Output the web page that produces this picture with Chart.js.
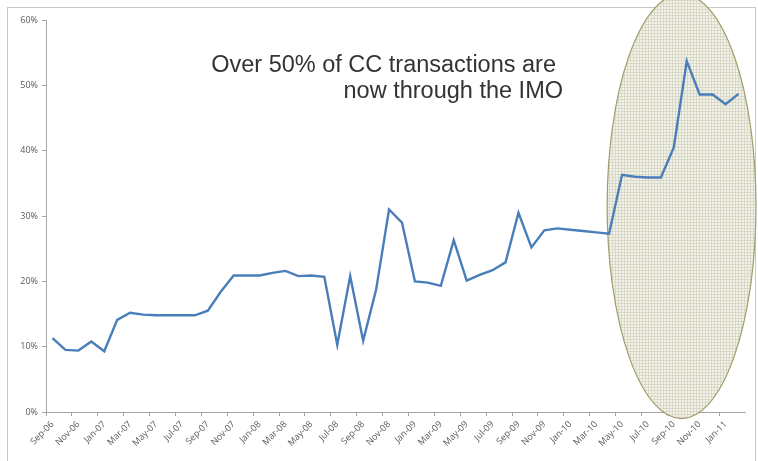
<!DOCTYPE html>
<html><head><meta charset="utf-8">
<script src="https://cdn.jsdelivr.net/npm/chart.js@4/dist/chart.umd.min.js"></script>
<style>html,body{margin:0;padding:0;background:#fff}#wrap{position:relative;width:758px;height:461px}</style>
</head><body><div id="wrap"><canvas id="c" width="758" height="461"></canvas></div>
<script>
const categories = ["Sep-06","Oct-06","Nov-06","Dec-06","Jan-07","Feb-07","Mar-07","Apr-07","May-07","Jun-07","Jul-07","Aug-07",
"Sep-07","Oct-07","Nov-07","Dec-07","Jan-08","Feb-08","Mar-08","Apr-08","May-08","Jun-08","Jul-08","Aug-08",
"Sep-08","Oct-08","Nov-08","Dec-08","Jan-09","Feb-09","Mar-09","Apr-09","May-09","Jun-09","Jul-09","Aug-09",
"Sep-09","Oct-09","Nov-09","Dec-09","Jan-10","Feb-10","Mar-10","Apr-10","May-10","Jun-10","Jul-10","Aug-10",
"Sep-10","Oct-10","Nov-10","Dec-10","Jan-11","Feb-11"];
const ccShare = [11.3,9.5,9.4,10.8,9.3,14.1,15.2,14.9,14.8,14.8,14.8,14.8,
15.5,18.4,20.9,20.9,20.9,21.3,21.6,20.8,20.9,20.7,10.3,20.8,
10.9,18.7,31.0,29.0,20.0,19.8,19.3,26.3,20.1,21.0,21.7,22.9,
30.5,25.2,27.8,28.1,27.9,27.7,27.5,27.3,36.3,36.0,35.9,35.9,
40.5,53.7,48.6,48.6,47.1,48.7];
const yTicks = [0,10,20,30,40,50,60];
const noteLines = ["Over 50% of CC transactions are","now through the IMO"];

function makePattern(){
  const p=document.createElement('canvas');p.width=3;p.height=3;
  const g=p.getContext('2d');
  g.fillStyle='#f3f3ec';g.fillRect(0,0,3,3);
  g.fillStyle='#d9d9c8';g.fillRect(0,0,3,1);g.fillRect(0,0,1,3);
  return g.createPattern(p,'repeat');
}

const extras = {
  id:'extras',
  beforeDraw(chart){
    const ctx=chart.ctx;
    ctx.save();
    ctx.strokeStyle='#c8c8c8';ctx.lineWidth=1;
    ctx.strokeRect(7.5,7.5,748,460);
    ctx.restore();
  },
  beforeDatasetsDraw(chart){
    const ctx=chart.ctx, x=chart.scales.x, y=chart.scales.y;
    const cx=x.getPixelForValue(48.6), cy=y.getPixelForValue(31.5);
    const rx=Math.abs(x.getPixelForValue(48.6+5.75)-cx);
    const ry=Math.abs(y.getPixelForValue(31.5+32.5)-cy);
    ctx.save();
    ctx.beginPath();ctx.ellipse(cx,cy,rx,ry,0,0,Math.PI*2);
    ctx.fillStyle=makePattern();ctx.fill();
    ctx.strokeStyle='#a29c6a';ctx.lineWidth=1.2;ctx.stroke();
    ctx.restore();
  },
  afterDatasetsDraw(chart){
    const ctx=chart.ctx;
    ctx.save();
    ctx.fillStyle='#333333';
    ctx.font='23.5px "Liberation Sans", Arial, sans-serif';
    ctx.textAlign='right';ctx.textBaseline='alphabetic';
    ctx.fillText(noteLines[0],556,72);
    ctx.fillText(noteLines[1],563,98);
    ctx.restore();
  }
};

new Chart(document.getElementById('c'),{
  type:'line',
  data:{labels:categories,datasets:[{data:ccShare,borderColor:'#4a7ebb',borderWidth:2.4,pointRadius:0,tension:0,fill:false}]},
  options:{
    responsive:false,animation:false,
    layout:{padding:{left:0,right:13,top:20,bottom:0}},
    plugins:{legend:{display:false},tooltip:{enabled:false}},
    scales:{
      x:{offset:true,
        grid:{offset:true,drawOnChartArea:false,drawTicks:true,tickLength:4,
          color:(c)=>(c.index%2===0?'#a6a6a6':'rgba(0,0,0,0)')},
        border:{color:'#a6a6a6',width:1},
        ticks:{autoSkip:false,maxRotation:45,minRotation:45,padding:3,color:'#595959',
          font:{family:'"Open Sans", sans-serif',size:9},
          callback:(v,i)=>(i%2===0?categories[i]:'')},
        afterFit:(s)=>{s.height=49;}
      },
      y:{min:0,max:60,
        afterBuildTicks:(s)=>{s.ticks=yTicks.map(v=>({value:v}));},
        grid:{drawOnChartArea:false,tickLength:4,color:'#a6a6a6'},
        border:{color:'#a6a6a6',width:1},
        ticks:{color:'#595959',padding:4,font:{family:'"Open Sans", sans-serif',size:9},callback:(v)=>v+'%'},
        afterFit:(s)=>{s.width=46;}
      }
    }
  },
  plugins:[extras]
});
</script></body></html>
